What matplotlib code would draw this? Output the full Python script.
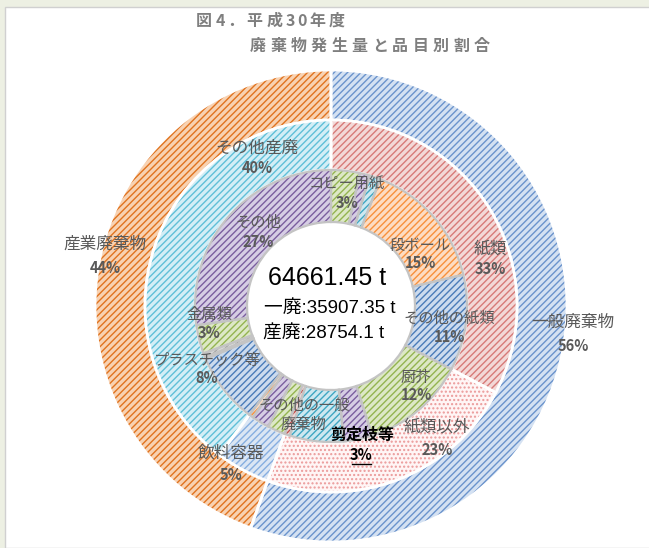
import matplotlib.pyplot as plt
from matplotlib.patches import Wedge, Rectangle

plt.rcParams['font.family'] = ['Noto Sans CJK JP', 'DejaVu Sans']
plt.rcParams['hatch.linewidth'] = 1.0

W, H = 649, 548

# ---- data (share of total, %) ----
inner_names = ['コピー用紙', '新聞', '雑誌', '段ボール', 'その他の紙類',
               '厨芥', '剪定枝等', 'その他の一般廃棄物', '布類',
               'びん', '缶', 'ペットボトル',
               'プラスチック等', 'ゴム類', 'ガラス類', '金属類', 'その他']
inner_values = [3.4, 1.2, 1.3, 15.4, 11.4,
                12.4, 3.4, 6.4, 0.63,
                2.1, 2.1, 0.5,
                8.4, 0.2, 0.5, 3.4, 27.27]
inner_group = [0, 0, 0, 0, 0, 1, 1, 1, 1, 2, 2, 2, 3, 3, 3, 3, 3]
mid_names = ['紙類', '紙類以外', '飲料容器', 'その他産廃']
mid_group = [0, 0, 1, 1]
outer_names = ['一般廃棄物', '産業廃棄物']

total_t = 64661.45
ippan_t = 35907.35
sanpai_t = 28754.1

mid_values = [sum(v for v, g in zip(inner_values, inner_group) if g == i)
              for i in range(len(mid_names))]
outer_values = [sum(v for v, g in zip(mid_values, mid_group) if g == i)
                for i in range(len(outer_names))]

# colours: (stripe, background tint)
GREEN = ('#93b450', '#dde8c6')
PURPLE = ('#7a5e9e', '#d6cde4')
CYAN = ('#3fa6c2', '#cde8f0')
ORANGE = ('#f7903c', '#fddcc2')
BLUE = ('#4a7bb8', '#ccdbee')
RED = ('#c0504d', '#f0d5d4')
GRAY = ('#a6a6a6', '#d9d9d9')

inner_cols = [GREEN, PURPLE, CYAN, ORANGE, BLUE,
              GREEN, PURPLE, CYAN, RED,
              GREEN, PURPLE, ORANGE,
              BLUE, RED, GRAY, GREEN, PURPLE]
mid_cols = [('#d77a78', '#f3d8d7'), ('#eb9a9a', '#fff5f5'),
            ('#86aee0', '#dbe6f4'), ('#5fbfd8', '#d3eef6')]
outer_cols = [('#6a93cc', '#d4e1f2'), ('#e0731f', '#f8d2b2')]

CX, CY = 331, H - 306
R_OUT, R_MID, R_IN, R_HOLE = 236, 186, 136, 84

fig = plt.figure(figsize=(W / 100, H / 100), dpi=100)
fig.patch.set_facecolor('#edf0e3')
ax = fig.add_axes([0, 0, 1, 1])


def ring(values, r, width, cols, hatches, edge, lw):
    wedges, _ = ax.pie(values, radius=r, center=(CX, CY), startangle=90,
                       counterclock=False, colors=[c[1] for c in cols],
                       wedgeprops=dict(width=width, linewidth=0))
    for w, c, h in zip(wedges, cols, hatches):
        ax.add_patch(Wedge(w.center, w.r, w.theta1, w.theta2, width=w.width,
                           facecolor='none', edgecolor=c[0], hatch=h, linewidth=0))
    for w in wedges:
        ax.add_patch(Wedge(w.center, w.r, w.theta1, w.theta2, width=w.width,
                           facecolor='none', edgecolor=edge, linewidth=lw))


ax.add_patch(Rectangle((5, 0), W, H - 7, facecolor='white', edgecolor='#d0d0d0', lw=1))

ring(outer_values, R_OUT, R_OUT - R_MID, outer_cols, ['/////'] * 2, 'white', 2)
ring(mid_values, R_MID, R_MID - R_IN, mid_cols, ['/////', '....', '/////', '/////'], 'white', 2)
ring(inner_values, R_IN, R_IN - R_HOLE, inner_cols, ['/////'] * len(inner_values), '#c4c4c4', 1.6)

ax.set_xlim(0, W)
ax.set_ylim(0, H)
ax.set_aspect('auto')
ax.axis('off')


def pct(v):
    return '%d%%' % round(v)


GREY_TXT = '#595959'


def label(name, value, x, y, gap=20, size=12):
    ax.text(x, H - y, name, ha='center', va='center', fontsize=size, color=GREY_TXT)
    if value is not None:
        ax.text(x, H - y - gap, pct(value), ha='center', va='center', fontsize=10.5,
                color=GREY_TXT, fontweight='bold')


# outer ring
label(outer_names[0], outer_values[0], 573, 322, gap=24)
label(outer_names[1], outer_values[1], 105, 244, gap=24)
# middle ring
label(mid_names[0], mid_values[0], 490, 249, gap=20)
label(mid_names[1], mid_values[1], 437, 427, gap=23)
label(mid_names[2], mid_values[2], 231, 453, gap=22)
label(mid_names[3], mid_values[3], 257, 148, gap=20)
# inner ring
label(inner_names[0], inner_values[0], 347, 184, gap=19, size=11)
label(inner_names[3], inner_values[3], 420, 245, gap=18, size=11)
label(inner_names[4], inner_values[4], 449, 318, gap=19, size=11)
label(inner_names[5], inner_values[5], 416, 377, gap=18, size=11)
label(inner_names[15], inner_values[15], 209, 314, gap=19, size=11)
label(inner_names[12], inner_values[12], 207, 360, gap=18, size=11)
label(inner_names[16], inner_values[16], 258, 222, gap=20, size=11)
ax.text(304, H - 405, 'その他の一般', ha='center', va='center', fontsize=11, color=GREY_TXT)
ax.text(303, H - 424, '廃棄物', ha='center', va='center', fontsize=11, color=GREY_TXT)
ax.text(362, H - 435, inner_names[6], ha='center', va='center', fontsize=11.5,
        color='black', fontweight='bold')
ax.text(361, H - 455, pct(inner_values[6]), ha='center', va='center', fontsize=10.5,
        color='black', fontweight='bold')
ax.plot([352, 371], [H - 464, H - 464], color='black', lw=1)

# centre totals
CENTER_FONT = ['Liberation Sans', 'Noto Sans CJK JP']
ax.text(327, H - 278, '%.2f t' % total_t, ha='center', va='center', fontsize=18,
        color='black', family=CENTER_FONT)
ax.text(330, H - 308, '一廃:%.2f t' % ippan_t, ha='center', va='center', fontsize=13.5,
        color='black', family=CENTER_FONT)
ax.text(324, H - 334, '産廃:%s t' % sanpai_t, ha='center', va='center',
        fontsize=13.5, color='black', family=CENTER_FONT)


# title with wide letter spacing
def spaced(x0, y, s, pitch, **kw):
    x = x0
    for ch in s:
        ax.text(x, H - y, ch, ha='left', va='center', **kw)
        x += pitch * (0.6 if ch.isascii() else 1)


spaced(196, 21, '図4．平成30年度', 19.5, fontsize=11.5, fontweight='bold', color='#7f7f7f')
spaced(250, 46, '廃棄物発生量と品目別割合', 20.3, fontsize=11.5, fontweight='bold', color='#7f7f7f')

fig.savefig('out.png', dpi=100, facecolor=fig.get_facecolor())
